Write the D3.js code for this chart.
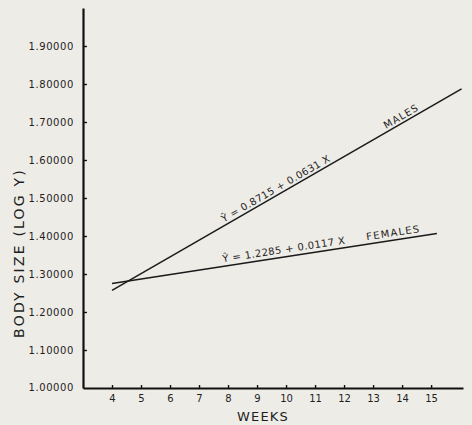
<!DOCTYPE html>
<html>
<head>
<meta charset="utf-8">
<script src="https://cdn.jsdelivr.net/npm/d3@7"></script>
<style>
  html, body { margin: 0; padding: 0; background: #eeece7; }
  svg { display: block; }
  text { font-family: "DejaVu Sans", sans-serif; fill: #1e1e1e; }
</style>
</head>
<body>
<svg id="chart" width="472" height="425"></svg>
<script>
// Weeks on the x axis, tick labels
const weekTicks = [4, 5, 6, 7, 8, 9, 10, 11, 12, 13, 14, 15];
// Body size (log Y) tick values and labels
const sizeTicks = [1.0, 1.1, 1.2, 1.3, 1.4, 1.5, 1.6, 1.7, 1.8, 1.9];
const sizeLabels = ["1.00000", "1.10000", "1.20000", "1.30000", "1.40000",
                    "1.50000", "1.60000", "1.70000", "1.80000", "1.90000"];

// Fitted regression lines: [week, log body size] end points
const malesLine = [[4, 1.257], [16.05, 1.787]];
const femalesLine = [[4, 1.2753], [15.2, 1.4063]];

const malesEquation = "Ŷ = 0.8715 + 0.0631 X";
const femalesEquation = "Ŷ = 1.2285 + 0.0117 X";

const svg = d3.select("#chart");

const x = d3.scaleLinear().domain([3, 16.1]).range([83, 463]);
const y = d3.scaleLinear().domain([1.0, 2.0]).range([388, 8]);

// Y axis with inward ticks
const yAxis = d3.axisLeft(y)
  .tickValues(sizeTicks.slice(1))
  .tickFormat((d) => sizeLabels[sizeTicks.indexOf(d)])
  .tickSizeInner(-4)
  .tickSizeOuter(0)
  .tickPadding(9);

const gy = svg.append("g").attr("transform", `translate(${x(3)},0)`).call(yAxis);
gy.select(".domain").attr("stroke", "#111").attr("stroke-width", 2.2);
gy.selectAll(".tick line").attr("stroke", "#111").attr("stroke-width", 1.4);
gy.selectAll(".tick text")
  .style("font-size", "10px").style("letter-spacing", "0.6px").attr("fill", "#222");

// Bottom label of the y axis sits at the origin
svg.append("text")
  .attr("x", x(3) - 9).attr("y", y(1.0)).attr("dy", "0.32em")
  .attr("text-anchor", "end")
  .style("font-size", "10px").style("letter-spacing", "0.6px")
  .text(sizeLabels[0]);

// X axis
const xAxis = d3.axisBottom(y.copy().domain([3, 16.1]).range([83, 463]))
  .tickValues(weekTicks)
  .tickSizeInner(-3)
  .tickSizeOuter(0)
  .tickPadding(7);

const gx = svg.append("g").attr("transform", `translate(0,${y(1.0)})`).call(xAxis);
gx.select(".domain").attr("stroke", "#111").attr("stroke-width", 2.2);
gx.selectAll(".tick line").attr("stroke", "#111").attr("stroke-width", 1.4);
gx.selectAll(".tick text").style("font-size", "10px").attr("fill", "#222");

// Axis titles
svg.append("text")
  .attr("x", 263).attr("y", 421)
  .attr("text-anchor", "middle")
  .style("font-size", "13px").style("letter-spacing", "1.2px")
  .text("WEEKS");

svg.append("text")
  .attr("transform", "translate(24,253) rotate(-90)")
  .attr("text-anchor", "middle")
  .style("font-size", "14px").style("letter-spacing", "2.2px")
  .text("BODY SIZE  (LOG  Y)");

// Regression lines
const line = d3.line().x((d) => x(d[0])).y((d) => y(d[1]));
[malesLine, femalesLine].forEach((pts) => {
  svg.append("path")
    .attr("d", line(pts))
    .attr("fill", "none")
    .attr("stroke", "#1a1a1a")
    .attr("stroke-width", 1.5);
});

// Text laid along a line, starting at week wx, raised off the line
function lineLabel(pts, wx, txt, size, raise, spacing) {
  const [p0, p1] = pts;
  const t = (wx - p0[0]) / (p1[0] - p0[0]);
  const v = p0[1] + t * (p1[1] - p0[1]);
  const ang = Math.atan2(y(p1[1]) - y(p0[1]), x(p1[0]) - x(p0[0])) * 180 / Math.PI;
  svg.append("text")
    .attr("transform", `translate(${x(wx)},${y(v)}) rotate(${ang}) translate(0,${-raise})`)
    .style("font-size", size + "px")
    .style("letter-spacing", spacing + "px")
    .text(txt);
}

lineLabel(malesLine, 7.9, malesEquation, 10, 3, 0.4);
lineLabel(malesLine, 13.5, "MALES", 10, 3, 1);
lineLabel(femalesLine, 7.85, femalesEquation, 10, 4, 0.4);
lineLabel(femalesLine, 12.8, "FEMALES", 10, 4, 1.3);
</script>
</body>
</html>
